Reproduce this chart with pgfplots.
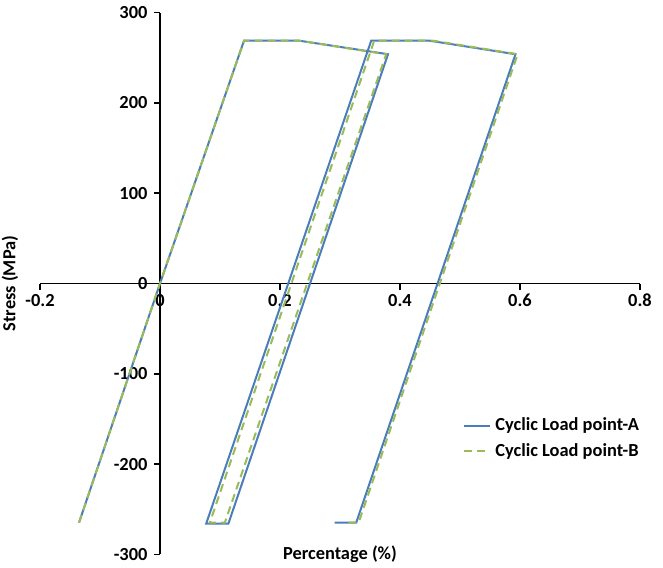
\documentclass[border=0pt]{standalone}
\usepackage{fontspec}
\setmainfont{Carlito}
\usepackage{pgfplots}
\pgfplotsset{compat=1.18}
\definecolor{serA}{RGB}{74,126,187}
\definecolor{serB}{RGB}{155,187,89}
\begin{document}
\fontsize{9.2}{11}\selectfont\bfseries
\begin{tikzpicture}
\begin{axis}[
  scale only axis,
  width=300pt, height=270.8pt,
  xmin=-0.2, xmax=0.8, ymin=-300, ymax=300,
  axis lines=middle,
  axis line style={-, line width=0.75pt, black},
  hide obscured x ticks=false, hide obscured y ticks=false,
  xtick={-0.2,0,0.2,0.4,0.6,0.8},
  ytick={-300,-200,-100,0,100,200,300},
  tick align=outside,
  major tick length=3pt,
  tick style={line width=0.75pt, black},
  /pgf/number format/assume math mode=true,
  /pgf/number format/fixed,
  ticklabel style={font=\fontsize{9.2}{11}\selectfont\bfseries},
  xticklabel style={yshift=1pt},
  xlabel={Percentage (\%)},
  ylabel={Stress (MPa)},
  xlabel style={at={(rel axis cs:0.5,0)}, anchor=center, font=\fontsize{9.2}{11}\selectfont\bfseries},
  ylabel style={at={(rel axis cs:-0.05,0.5)}, anchor=center, rotate=90, font=\fontsize{9.2}{11}\selectfont\bfseries},
  legend style={draw=none, fill=none, at={(rel axis cs:0.695,0.2138)}, anchor=west,
    font=\fontsize{9.2}{11}\selectfont\bfseries, row sep=1pt,
    nodes={inner sep=2pt}},
  legend cell align=left,
  legend image code/.code={\draw[#1] (0pt,0pt) -- (13pt,0pt);},
]
\addplot[serA, line width=1pt, no marks] coordinates {
(-0.135,-265) (0,0) (0.14,269) (0.232,269) (0.38,254) (0.114,-266) (0.077,-266)
(0.352,269) (0.449,269) (0.5925,254) (0.327,-265) (0.291,-265)};
\addlegendentry{Cyclic Load point-A}
\addplot[serB, line width=1pt, dash pattern=on 4pt off 2.5pt, no marks] coordinates {
(-0.135,-265) (0,0) (0.14,269) (0.232,269) (0.377,254) (0.108,-265) (0.083,-265)
(0.357,269) (0.455,269) (0.596,254) (0.331,-265) (0.313,-265)};
\addlegendentry{Cyclic Load point-B}
\coordinate (bl) at (rel axis cs:0,0);
\coordinate (tr) at (rel axis cs:1,1);
\end{axis}
\pgfresetboundingbox
\path[use as bounding box] ([xshift=-20pt,yshift=-6.35pt]bl) rectangle ([xshift=11.5pt,yshift=6.35pt]tr);
\end{tikzpicture}
\end{document}
